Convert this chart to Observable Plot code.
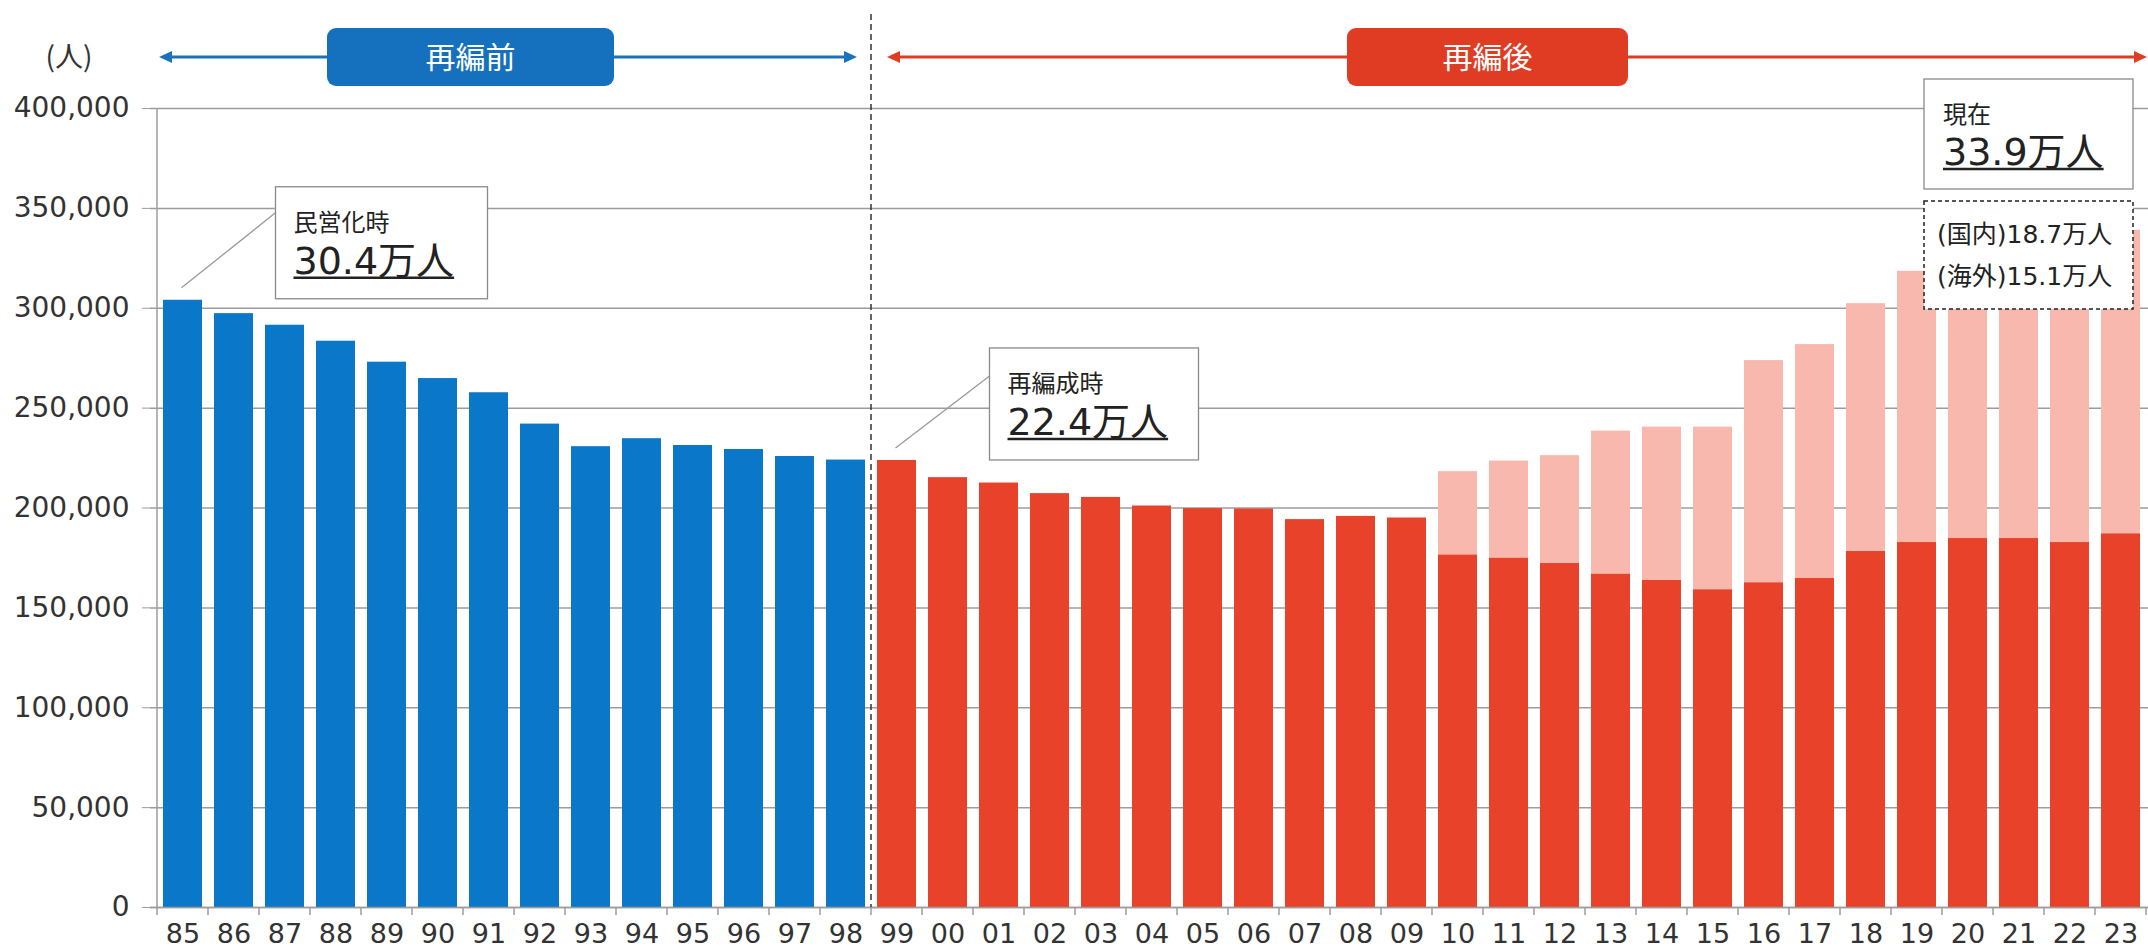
<!DOCTYPE html>
<html><head><meta charset="utf-8">
<script src="https://cdn.jsdelivr.net/npm/d3@7"></script>
<script src="https://cdn.jsdelivr.net/npm/@observablehq/plot@0.6"></script>
<style>
html,body{margin:0;padding:0;background:#fff;overflow:hidden;}
</style>
</head><body>
<div id="chart"></div>
<script>
// ---- data ----
const years = ["85","86","87","88","89","90","91","92","93","94","95","96","97","98",
  "99","00","01","02","03","04","05","06","07","08","09",
  "10","11","12","13","14","15","16","17","18","19","20","21","22","23"];
const beforeYears = years.slice(0, 14);
const beforeValues = [304000, 297300, 291500, 283500, 273000, 264800, 257700, 242000, 230700, 234700, 231300, 229300, 225800, 224000];
const afterYears = years.slice(14);
const afterTotals = [223800, 215200, 212500, 207200, 205300, 201000, 199700, 199500, 194200, 195800, 195000,
  218200, 223500, 226200, 238500, 240500, 240500, 273800, 281800, 302300, 318500, 324700, 333800, 338500, 339000];
const splitYears = years.slice(25);
const domesticValues = [176400, 174800, 172200, 166800, 163700, 159000, 162500, 164700, 178200, 182700, 184700, 184700, 182700, 187000];
const yTicks = [0, 50000, 100000, 150000, 200000, 250000, 300000, 350000, 400000];
const unitLabel = "(人)";
const eraLabels = ["再編前", "再編後"];
const notes = [
  {year: "85", value: 304000, title: "民営化時", big: "30.4万人"},
  {year: "99", value: 223800, title: "再編成時", big: "22.4万人"}
];
const currentNote = {title: "現在", big: "33.9万人", lines: ["(国内)18.7万人", "(海外)15.1万人"]};

const BLUE = "#0A77C8", RED = "#E8432A", PINK = "#F9B8AD";
const beforeRows = beforeYears.map((y, i) => ({year: y, value: beforeValues[i]}));
const afterRows = afterYears.map((y, i) => ({year: y, total: afterTotals[i]}));
const redOnly = afterRows.filter(d => !splitYears.includes(d.year));
const pinkRows = afterRows.filter(d => splitYears.includes(d.year));
const domRows = splitYears.map((y, i) => ({year: y, value: domesticValues[i]}));

const FONT = "'DejaVu Sans','Noto Sans CJK JP',sans-serif";

const chart = Plot.plot({
  width: 2148, height: 950,
  marginTop: 108, marginBottom: 43, marginLeft: 150, marginRight: 0,
  x: {domain: years, range: [150, 2153], paddingInner: 0.24, paddingOuter: 0.12, label: null},
  y: {domain: [0, 400000], label: null},
  style: {fontFamily: FONT, fontSize: "28px", background: "#fff", color: "#333", overflow: "hidden"},
  marks: [
    Plot.gridY(yTicks, {stroke: "#9c9c9c", strokeOpacity: 1, strokeWidth: 1.5}),
    Plot.barY(beforeRows, {x: "year", y: "value", fill: BLUE}),
    Plot.barY(redOnly, {x: "year", y: "total", fill: RED}),
    Plot.barY(pinkRows, {x: "year", y: "total", fill: PINK}),
    Plot.barY(domRows, {x: "year", y: "value", fill: RED}),
    Plot.ruleY([0], {stroke: "#9c9c9c", strokeWidth: 1.5}),
    Plot.axisY(yTicks, {tickFormat: d3.format(","), tickSize: 8, tickPadding: 13, fontSize: 28, stroke: "#9c9c9c", fill: "#333"}),
    Plot.axisX({tickSize: 0, tickPadding: 16, fontSize: 27, fill: "#333"})
  ]
});
document.getElementById("chart").appendChild(chart);

// ---- annotations positioned through the chart's scales ----
const xs = chart.scale("x"), ys = chart.scale("y");
const gap = (xs.step - xs.bandwidth) / 2;
const boundary = i => i < years.length ? xs.apply(years[i]) - gap : xs.apply(years[years.length - 1]) + xs.bandwidth + gap;
const center = y => xs.apply(y) + xs.bandwidth / 2;
const x0 = boundary(0), yTop = ys.apply(400000), yBase = ys.apply(0);
const svg = d3.select(chart);
const g = svg.append("g").attr("text-anchor", "start");

// y axis line
g.append("line").attr("x1", x0).attr("x2", x0).attr("y1", yTop).attr("y2", yBase)
  .attr("stroke", "#9c9c9c").attr("stroke-width", 1.5);
// category boundary ticks
for (let i = 0; i <= years.length; i++) {
  const bx = boundary(i);
  g.append("line").attr("x1", bx).attr("x2", bx).attr("y1", yBase).attr("y2", yBase + 8)
    .attr("stroke", "#9c9c9c").attr("stroke-width", 1.5);
}
// era divider
const xDiv = boundary(beforeYears.length);
g.append("line").attr("x1", xDiv).attr("x2", xDiv).attr("y1", 14).attr("y2", yBase)
  .attr("stroke", "#333").attr("stroke-width", 1.5).attr("stroke-dasharray", "6,4");

// unit label
g.append("text").attr("x", 69).attr("y", 57).attr("dy", "0.35em").attr("text-anchor", "middle")
  .attr("font-family", "'Noto Sans CJK JP',sans-serif").attr("font-size", 28).attr("fill", "#333").text(unitLabel);

// era arrows
function arrow(xa, xb, y, color) {
  g.append("line").attr("x1", xa + 8).attr("x2", xb - 8).attr("y1", y).attr("y2", y)
    .attr("stroke", color).attr("stroke-width", 3);
  g.append("path").attr("d", `M${xa},${y}L${xa + 13},${y - 6}L${xa + 13},${y + 6}Z`).attr("fill", color);
  g.append("path").attr("d", `M${xb},${y}L${xb - 13},${y - 6}L${xb - 13},${y + 6}Z`).attr("fill", color);
}
function eraBox(xa, xb, color, label) {
  g.append("rect").attr("x", xa).attr("y", 28).attr("width", xb - xa).attr("height", 58)
    .attr("rx", 9).attr("fill", color);
  g.append("text").attr("x", (xa + xb) / 2).attr("y", 57).attr("dy", "0.36em").attr("text-anchor", "middle")
    .attr("font-family", "'Noto Sans CJK JP',sans-serif").attr("font-size", 30).attr("fill", "#fff").text(label);
}
arrow(x0 + 2, xDiv - 14, 57, "#1A72BB");
arrow(xDiv + 16, 2147, 57, "#E03C24");
eraBox(327, 614, "#1570BE", eraLabels[0]);
eraBox(1347, 1628, "#E03C24", eraLabels[1]);

function bigText(x, y, str) {
  const t = g.append("text").attr("x", x).attr("y", y).attr("text-anchor", "start").attr("font-family", FONT)
    .attr("font-size", 38).attr("fill", "#222").text(str);
  const w = t.node().getComputedTextLength();
  g.append("line").attr("x1", x).attr("x2", x + w).attr("y1", y + 4).attr("y2", y + 4)
    .attr("stroke", "#222").attr("stroke-width", 2.5);
}
function smallText(x, y, str, size) {
  g.append("text").attr("x", x).attr("y", y).attr("text-anchor", "start").attr("font-family", FONT)
    .attr("font-size", size).attr("fill", "#222").text(str);
}

// callouts for 85 and 99
const noteBoxes = [{dx: 93, dy: -113, w: 212, h: 112, hit: 26}, {dx: 93, dy: -112, w: 209, h: 112, hit: 28}];
notes.forEach((n, i) => {
  const cx = center(n.year), cy = ys.apply(n.value);
  const b = noteBoxes[i];
  const bx = cx + b.dx, by = cy + b.dy;
  g.append("line").attr("x1", cx - 1).attr("y1", cy - 12).attr("x2", bx).attr("y2", by + b.hit)
    .attr("stroke", "#999").attr("stroke-width", 1.3);
  g.append("rect").attr("x", bx).attr("y", by).attr("width", b.w).attr("height", b.h)
    .attr("fill", "#fff").attr("stroke", "#8a8a8a").attr("stroke-width", 1.3);
  smallText(bx + 18, by + 44, n.title, 24);
  bigText(bx + 18, by + 87, n.big);
});

// current value callout (right side)
const rx = 1924, rw = 209;
g.append("rect").attr("x", rx).attr("y", 79).attr("width", rw).attr("height", 110)
  .attr("fill", "#fff").attr("stroke", "#8a8a8a").attr("stroke-width", 1.3);
smallText(rx + 19, 123, currentNote.title, 24);
bigText(rx + 19, 165, currentNote.big);
g.append("rect").attr("x", rx).attr("y", 201).attr("width", rw).attr("height", 108)
  .attr("fill", "#fff").attr("stroke", "#222").attr("stroke-width", 1.5).attr("stroke-dasharray", "4,3");
smallText(rx + 13, 243, currentNote.lines[0], 25);
smallText(rx + 13, 285, currentNote.lines[1], 25);
</script>
</body></html>
